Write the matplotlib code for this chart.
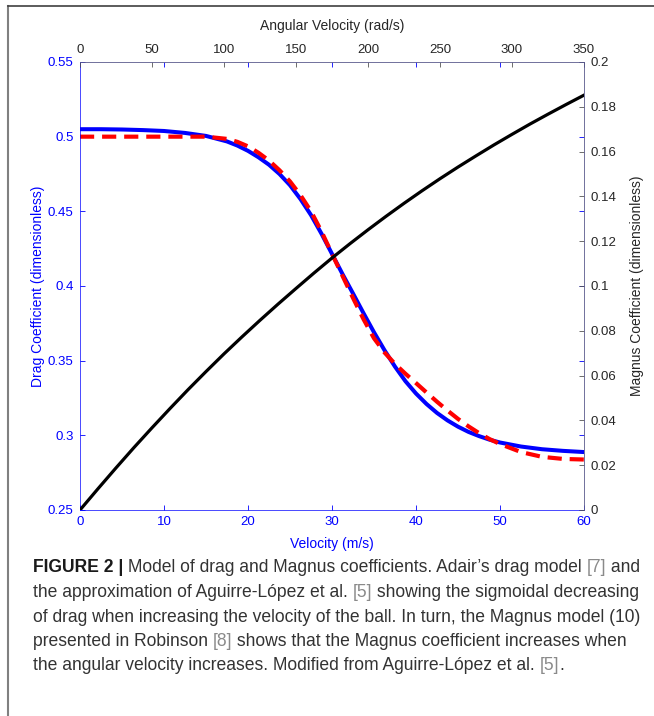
import matplotlib as mpl
mpl.use('Agg')
import matplotlib.pyplot as plt
from matplotlib import font_manager
from matplotlib.lines import Line2D
from matplotlib.ticker import FuncFormatter

# velocity (m/s) and the two drag models
velocity = [0, 2.5, 5, 7.5, 10, 12.5, 15,
            17.5, 18.75, 20, 21.25, 22.5, 23.75, 25, 26.25, 27.5, 28.75, 30,
            31.25, 32.5, 33.75, 35, 36.25, 37.5, 38.75, 40, 41.25, 42.5, 43.75,
            45, 46.25, 47.5, 48.75, 50,
            52.5, 55, 57.5, 60]
drag_adair = [0.5050, 0.5050, 0.5048, 0.5044, 0.5038, 0.5025, 0.5005,
              0.4968, 0.4940, 0.4905, 0.4862, 0.4812, 0.4750, 0.4675, 0.4582,
              0.4475, 0.4350, 0.4215, 0.4080, 0.3950, 0.3818, 0.3690, 0.3570,
              0.3460, 0.3362, 0.3280, 0.3210, 0.3150, 0.3100, 0.3058, 0.3023,
              0.2995, 0.2971, 0.2952,
              0.2925, 0.2907, 0.2896, 0.2888]
drag_aguirre = [0.5000, 0.5000, 0.5000, 0.5000, 0.5000, 0.5000, 0.5000,
                0.4985, 0.4965, 0.4935, 0.4892, 0.4840, 0.4775, 0.4700, 0.4608,
                0.4500, 0.4365, 0.4215, 0.4068, 0.3920, 0.3778, 0.3650, 0.3555,
                0.3478, 0.3412, 0.3350, 0.3287, 0.3225, 0.3166, 0.3110, 0.3060,
                0.3015, 0.2975, 0.2942,
                0.2888, 0.2856, 0.2842, 0.2838]

# angular velocity (rad/s) and Magnus coefficient (Robinson)
omega = [0, 12.5, 25, 37.5, 50, 62.5, 75, 87.5, 100, 112.5, 125, 137.5, 150, 162.5,
         175, 187.5, 200, 212.5, 225, 237.5, 250, 262.5, 275, 287.5, 300, 312.5,
         325, 337.5, 350]
magnus = [0.0, 0.0095, 0.0188, 0.0279, 0.0367, 0.0453, 0.0537, 0.0618, 0.0697,
          0.0773, 0.0847, 0.0919, 0.0989, 0.1058, 0.1125, 0.1189, 0.1251, 0.1311,
          0.1369, 0.1425, 0.1479, 0.1531, 0.1581, 0.1630, 0.1677, 0.1723, 0.1767,
          0.1810, 0.1852]

drag_ticks = [0.25, 0.3, 0.35, 0.4, 0.45, 0.5, 0.55]
vel_ticks = [0, 10, 20, 30, 40, 50, 60]
omega_ticks = [0, 50, 100, 150, 200, 250, 300, 350]
magnus_ticks = [0, 0.02, 0.04, 0.06, 0.08, 0.1, 0.12, 0.14, 0.16, 0.18, 0.2]

caption = [
    [("FIGURE 2 | ", "bold"), ("Model of drag and Magnus coefficients. Adair\u2019s drag model ", "normal"),
     ("[7]", "ref"), (" and", "normal")],
    [("the approximation of Aguirre-L\u00f3pez et al. ", "normal"), ("[5]", "ref"),
     (" showing the sigmoidal decreasing", "normal")],
    [("of drag when increasing the velocity of the ball. In turn, the Magnus model (10)", "normal")],
    [("presented in Robinson ", "normal"), ("[8]", "ref"),
     (" shows that the Magnus coefficient increases when", "normal")],
    [("the angular velocity increases. Modified from Aguirre-L\u00f3pez et al. ", "normal"),
     ("[5]", "ref"), (".", "normal")],
]

W, H = 654, 716
plt.rcParams['font.family'] = ['Liberation Sans', 'DejaVu Sans']
BLUE = '#0000ff'
DARK = '#262626'
fmt = FuncFormatter(lambda x, p: '%g' % x)

fig = plt.figure(figsize=(W / 100, H / 100), dpi=100)
rect = [80 / W, 1 - 510 / H, 504 / W, 448 / H]

# main axes: velocity vs drag
ax = fig.add_axes(rect)
ax.plot(velocity, drag_adair, color=BLUE, lw=2.9, solid_joinstyle='round')
ax.plot(velocity, drag_aguirre, color='red', lw=3.0, dashes=(3.4, 1.9))
ax.set_xlim(0, 60)
ax.set_ylim(0.25, 0.55)
ax.set_xticks(vel_ticks)
ax.set_yticks(drag_ticks)
ax.xaxis.set_major_formatter(fmt)
ax.yaxis.set_major_formatter(fmt)
ax.tick_params(direction='in', length=3.6, width=0.6, colors=BLUE, labelsize=9.5,
               top=True, right=True, labeltop=False, labelright=False, pad=4.5)
for s in ['left', 'bottom']:
    ax.spines[s].set_color(BLUE)
    ax.spines[s].set_linewidth(0.5)
for s in ['top', 'right']:
    ax.spines[s].set_visible(False)
ax.set_xlabel('Velocity (m/s)', color=BLUE, fontsize=10, va='center')
ax.xaxis.set_label_coords(0.5, (510 - 544) / 448)
ax.set_ylabel('Drag Coefficient (dimensionless)', color=BLUE, fontsize=10, va='center')
ax.yaxis.set_label_coords((38 - 80) / 504, 0.5)

# overlay axes: angular velocity vs Magnus coefficient
axm = fig.add_axes(rect)
axm.patch.set_visible(False)
axm.plot(omega, magnus, color='black', lw=2.3, solid_joinstyle='round')
axm.set_xlim(0, 350)
axm.set_ylim(0, 0.2)
axm.set_xticks(omega_ticks)
axm.set_yticks(magnus_ticks)
axm.xaxis.set_major_formatter(fmt)
axm.yaxis.set_major_formatter(fmt)
axm.xaxis.tick_top()
axm.yaxis.tick_right()
axm.tick_params(direction='in', length=3.6, width=0.6, colors='#555555', labelsize=9.5, pad=4.5)
axm.tick_params(labelcolor=DARK)
for s in ['left', 'bottom']:
    axm.spines[s].set_visible(False)
for s in ['top', 'right']:
    axm.spines[s].set_color('#5a5a8c')
    axm.spines[s].set_linewidth(0.6)
axm.set_xlabel('Angular Velocity (rad/s)', color=DARK, fontsize=10, va='center')
axm.xaxis.set_label_position('top')
axm.xaxis.set_label_coords(0.5, (510 - 30) / 448)
axm.set_ylabel('Magnus Coefficient (dimensionless)', color=DARK, fontsize=10,
               va='center', rotation=90)
axm.yaxis.set_label_position('right')
axm.yaxis.set_label_coords((630 - 80) / 504, 0.5)

# page frame (left and top edges)
fig.add_artist(Line2D([7.5 / W, 7.5 / W], [0, 1 - 6 / H], transform=fig.transFigure,
                      color='#808080', lw=1.5))
fig.add_artist(Line2D([7.5 / W, 1], [1 - 6 / H, 1 - 6 / H], transform=fig.transFigure,
                      color='#404040', lw=1.2))

# caption
names = {f.name for f in font_manager.fontManager.ttflist}
cap_family = 'Liberation Sans Narrow' if 'Liberation Sans Narrow' in names else 'Liberation Sans'
styles = {'bold': dict(color='#1a1a1a', fontweight='bold'),
          'normal': dict(color='#333333'),
          'ref': dict(color='#8a8a8a')}


def draw_line(parts, y, size):
    arts = []
    prev = None
    for txt, st in parts:
        kw = dict(fontsize=size, family=cap_family, **styles[st])
        if prev is None:
            t = fig.text(33 / W, y, txt, ha='left', va='center', **kw)
        else:
            t = fig.add_artist(mpl.text.Annotation(txt, xy=(1, 0), xycoords=prev,
                                                   ha='left', va='bottom', **kw))
        arts.append(t)
        prev = t
    return arts


# fit caption size so first line spans the text block width
size = 12.0
first = draw_line(caption[0], 0.5, size)
fig.canvas.draw()
r = fig.canvas.get_renderer()
x0 = first[0].get_window_extent(r).x0
x1 = first[-1].get_window_extent(r).x1
for a in first:
    a.remove()
size = size * (645 - 33) / (x1 - x0)

for i, parts in enumerate(caption):
    draw_line(parts, 1 - (568 + 24.5 * i) / H, size)

fig.savefig('out.png', dpi=100)
